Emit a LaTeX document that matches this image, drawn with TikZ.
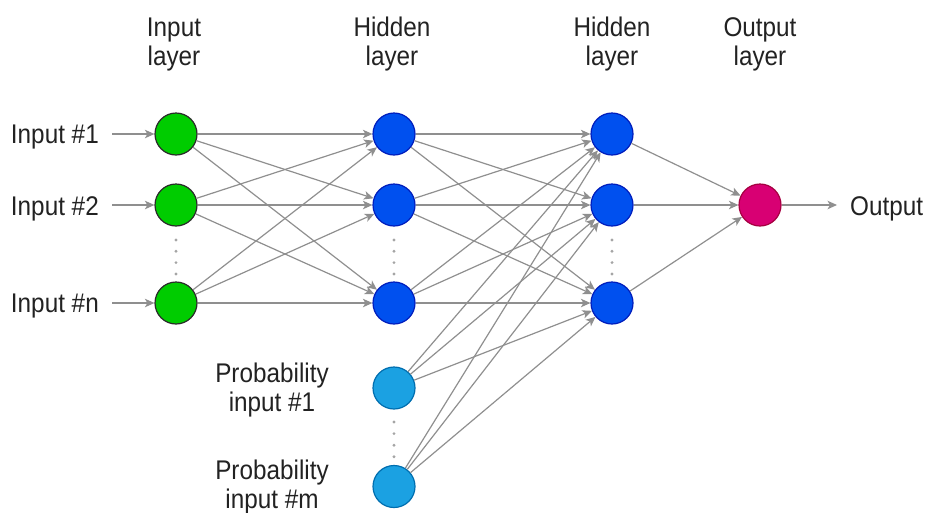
\documentclass[tikz,border=0pt]{standalone}
\usepackage{fontspec}
\setmainfont[FakeStretch=0.9]{Liberation Sans}
\usetikzlibrary{arrows.meta}

\definecolor{edgegray}{HTML}{8F8F8F}
\definecolor{txt}{HTML}{222222}
\definecolor{inFill}{HTML}{00CC00}
\definecolor{inLine}{HTML}{2A2A2A}
\definecolor{hidFill}{HTML}{0050EF}
\definecolor{hidLine}{HTML}{001DBC}
\definecolor{probFill}{HTML}{1BA1E2}
\definecolor{probLine}{HTML}{006EAF}
\definecolor{outFill}{HTML}{D80073}
\definecolor{outLine}{HTML}{A50040}

\tikzset{
  neuron/.style={circle, minimum size=42pt, inner sep=0pt, line width=1.2pt},
  inneuron/.style={neuron, fill=inFill, draw=inLine},
  hidneuron/.style={neuron, fill=hidFill, draw=hidLine},
  probneuron/.style={neuron, fill=probFill, draw=probLine},
  outneuron/.style={neuron, fill=outFill, draw=outLine},
  conn/.style={draw=edgegray, line width=1.2pt,
    -{Stealth[length=9.5pt,width=8.5pt,inset=2.5pt]}},
  lbl/.style={text=txt, font=\fontsize{27}{29}\selectfont, inner sep=0pt},
  head/.style={lbl, align=center},
  vdot/.style={fill=edgegray!80}
}

\begin{document}
\begin{tikzpicture}[x=1pt, y=-1pt]
\useasboundingbox (0,0) rectangle (928,512);

% layer headings
\node[head] (hIn)  at (174,44.5) {Input\\layer};
\node[head] (hH1)  at (392,44.5) {Hidden\\layer};
\node[head] (hH2)  at (612,44.5) {Hidden\\layer};
\node[head] (hOut) at (760,44.5) {Output\\layer};

% neurons
\node[inneuron] (i1) at (176,134) {};
\node[inneuron] (i2) at (176,205) {};
\node[inneuron] (i3) at (176,303) {};

\node[hidneuron] (a1) at (394,134) {};
\node[hidneuron] (a2) at (394,205) {};
\node[hidneuron] (a3) at (394,303) {};

\node[hidneuron] (b1) at (612,134) {};
\node[hidneuron] (b2) at (612,205) {};
\node[hidneuron] (b3) at (612,303) {};

\node[probneuron] (p1) at (394,388) {};
\node[probneuron] (p2) at (394,486.5) {};

\node[outneuron] (o) at (760,205) {};

% input labels and their incoming arrows
\node[lbl, anchor=base east] (l1) at (99,143) {Input \#1};
\node[lbl, anchor=base east] (l2) at (99,215) {Input \#2};
\node[lbl, anchor=base east] (l3) at (99,312) {Input \#n};
\coordinate (s1) at (112,134);
\coordinate (s2) at (112,205);
\coordinate (s3) at (112,303);
\foreach \k in {1,2,3} \draw[conn] (s\k) -- (i\k);

% probability input labels
\node[head] (lp1) at (272,390) {Probability\\input \#1};
\node[head] (lp2) at (272,487) {Probability\\input \#m};

% output arrow and label
\coordinate (oe) at (837,205);
\draw[conn] (o) -- (oe);
\node[lbl, anchor=base west] (lo) at (850,215) {Output};

% connections
\foreach \s in {1,2,3}
  \foreach \t in {1,2,3} {
    \draw[conn] (i\s) -- (a\t);
    \draw[conn] (a\s) -- (b\t);
  }
\foreach \s in {1,2}
  \foreach \t in {1,2,3}
    \draw[conn] (p\s) -- (b\t);
\foreach \s in {1,2,3}
  \draw[conn] (b\s) -- (o);

% ellipsis dots between neurons
\foreach \x in {176,394,612}
  \foreach \y in {240,251.3,262.6,274}
    \fill[vdot] (\x,\y) circle (1.6pt);
\foreach \y in {422,433.6,445.2,456.8}
  \fill[vdot] (394,\y) circle (1.6pt);
\end{tikzpicture}
\end{document}
